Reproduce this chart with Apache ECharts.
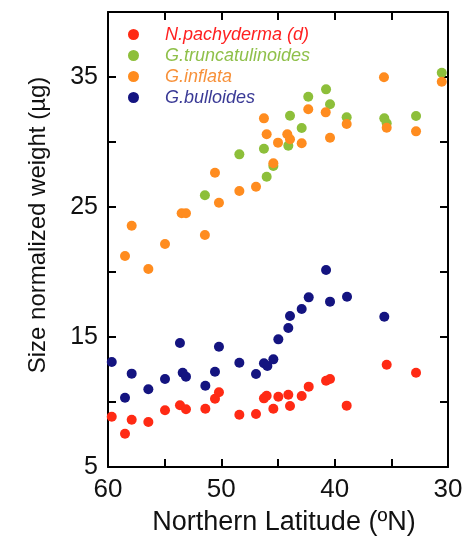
<!DOCTYPE html>
<html><head><meta charset="utf-8">
<script src="https://cdn.jsdelivr.net/npm/echarts@6/dist/echarts.min.js"></script>
<style>html,body{margin:0;padding:0;background:#fff}#c{width:462px;height:536px}</style>
</head><body><div id="c"></div>
<script>
var seriesNames = ['N.pachyderma (d)', 'G.truncatulinoides', 'G.inflata', 'G.bulloides'];
var xTickLabels = [30, 40, 50, 60];
var yTickLabels = [5, 15, 25, 35];

var pachyLat = [59.67,58.5,57.91,56.44,54.97,53.65,53.12,51.41,50.56,50.21,48.41,46.94,46.24,46.0,45.41,44.97,44.09,43.94,42.91,42.29,40.76,40.41,38.94,35.41,32.82];
var pachyVal = [8.87,7.56,8.64,8.46,9.36,9.75,9.44,9.48,10.25,10.75,9.02,9.08,10.28,10.48,9.48,10.41,10.56,9.69,10.46,11.18,11.64,11.77,9.72,12.87,12.25];

var truncLat = [51.45,48.41,46.24,46.0,45.41,44.09,43.94,42.91,42.33,40.76,40.41,38.94,35.62,35.41,32.82,30.55];
var truncVal = [25.9,29.05,29.48,27.33,28.15,29.72,32.02,31.08,33.48,34.05,32.9,31.9,31.82,31.44,32.0,35.33];

var inflLat = [58.5,57.91,56.44,54.97,53.5,53.12,51.45,50.56,50.21,48.41,46.94,46.24,46.0,45.41,45.0,44.18,43.94,42.91,42.33,40.79,40.41,38.94,35.65,35.41,32.82,30.55];
var inflVal = [21.23,23.56,20.23,22.15,24.52,24.52,22.85,27.64,25.33,26.23,26.56,31.82,30.59,28.36,29.95,30.59,30.21,29.9,32.52,32.28,30.33,31.38,34.98,31.1,30.82,34.64];

var bullLat = [59.67,58.5,57.91,56.44,54.97,53.65,53.41,53.12,51.41,50.56,50.21,48.41,46.94,46.24,45.94,45.41,44.97,44.09,43.94,42.91,42.29,40.76,40.41,38.91,35.62];
var bullVal = [13.08,10.33,12.18,10.98,11.77,14.54,12.25,11.95,11.25,12.33,14.25,13.02,12.15,12.98,12.77,13.28,14.82,15.69,16.62,17.15,18.05,20.15,17.72,18.1,16.56];

var markerColors = ['#ff2a14', '#8dbf3a', '#ff8c1f', '#141480'];
var legendTextColors = ['#ff2020', '#8fc04a', '#f7913a', '#3a3a96'];

function zip(a, b) { return a.map(function (v, i) { return [v, b[i]]; }); }
var allData = [zip(pachyLat, pachyVal), zip(truncLat, truncVal), zip(inflLat, inflVal), zip(bullLat, bullVal)];

var font = 'Liberation Sans, Arial, sans-serif';
var axisLineStyle = { lineStyle: { color: '#000', width: 2 } };
var tickStyle = { show: true, inside: true, length: 8, lineStyle: { color: '#000', width: 2 } };

var chart = echarts.init(document.getElementById('c'), null, { renderer: 'canvas' });
chart.setOption({
  animation: false,
  grid: { left: 108, right: 14, top: 12, bottom: 69, containLabel: false, outerBoundsMode: 'none' },
  legend: {
    orient: 'vertical', left: 123, top: 19, itemWidth: 11, itemHeight: 11, itemGap: 0,
    icon: 'circle',
    data: seriesNames.map(function (n, i) {
      return { name: n, textStyle: { color: legendTextColors[i] } };
    }),
    textStyle: { fontFamily: font, fontSize: 18, fontStyle: 'italic', lineHeight: 21, padding: [0, 0, 0, 21] }
  },
  xAxis: [{
    type: 'value', min: 30, max: 60, interval: 5, inverse: true, position: 'bottom',
    axisLine: axisLineStyle, axisTick: tickStyle, splitLine: { show: false },
    axisLabel: { fontFamily: font, fontSize: 26, color: '#111', margin: 10,
      formatter: function (v) { return xTickLabels.indexOf(v) >= 0 ? String(v) : ''; } },
    name: 'Northern Latitude (\u00baN)', nameLocation: 'middle', nameGap: 42,
    nameTextStyle: { fontFamily: font, fontSize: 27, color: '#111', padding: [0, 0, 0, 12] }
  }, {
    type: 'value', min: 30, max: 60, interval: 5, inverse: true, position: 'top',
    axisLine: axisLineStyle, axisTick: tickStyle, axisLabel: { show: false }, splitLine: { show: false }
  }],
  yAxis: [{
    type: 'value', min: 5, max: 40, interval: 5, position: 'left',
    axisLine: axisLineStyle, axisTick: tickStyle, splitLine: { show: false },
    axisLabel: { fontFamily: font, fontSize: 25, color: '#111', margin: 10,
      formatter: function (v) { return yTickLabels.indexOf(v) >= 0 ? String(v) : ''; } },
    name: 'Size normalized weight (\u00b5g)', nameLocation: 'middle', nameGap: 58,
    nameTextStyle: { fontFamily: font, fontSize: 24, color: '#111', padding: [0, 0, 0, 29] }
  }, {
    type: 'value', min: 5, max: 40, interval: 5, position: 'right',
    axisLine: axisLineStyle, axisTick: tickStyle, axisLabel: { show: false }, splitLine: { show: false }
  }],
  series: seriesNames.map(function (n, i) {
    return { name: n, type: 'scatter', xAxisIndex: 0, yAxisIndex: 0, symbol: 'circle', symbolSize: 10,
      itemStyle: { color: markerColors[i], opacity: 1 }, data: allData[i] };
  })
});
</script></body></html>
